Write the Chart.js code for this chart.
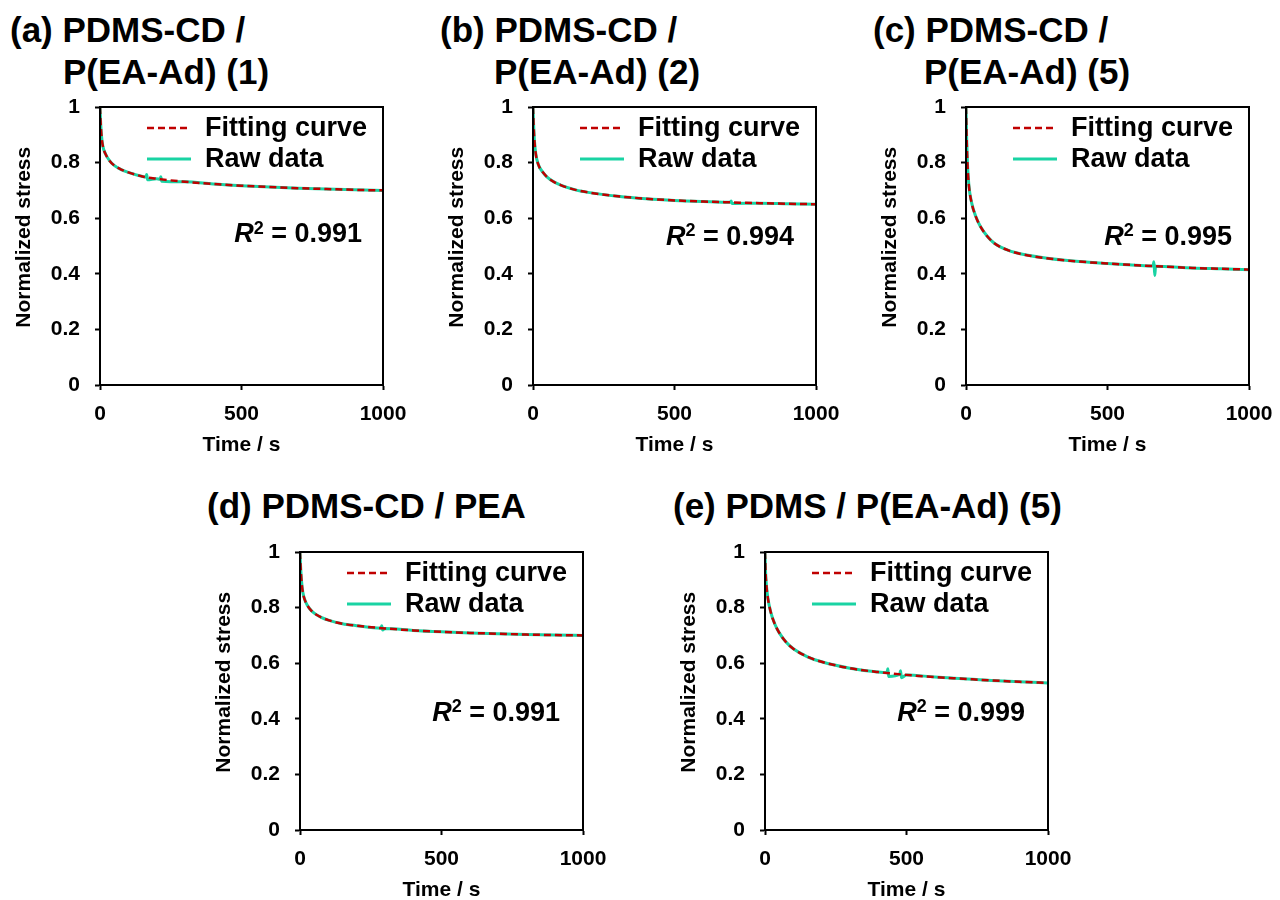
<!DOCTYPE html>
<html>
<head>
<meta charset="utf-8">
<script src="https://cdn.jsdelivr.net/npm/chart.js@4.4.1/dist/chart.umd.min.js"></script>
<style>
  body { margin: 0; background: #fff; width: 1280px; height: 900px; position: relative; overflow: hidden;
         font-family: "Liberation Sans", Arial, sans-serif; }
  .title { position: absolute; font-weight: bold; font-size: 35px; line-height: 42px; color: #000; white-space: nowrap; }
  canvas { position: absolute; }
</style>
</head>
<body>
<div class="title" style="left:10px;top:9px">(a) PDMS-CD /</div>
<div class="title" style="left:63px;top:51px">P(EA-Ad) (1)</div>
<div class="title" style="left:440px;top:9px">(b) PDMS-CD /</div>
<div class="title" style="left:494px;top:51px">P(EA-Ad) (2)</div>
<div class="title" style="left:873px;top:9px">(c) PDMS-CD /</div>
<div class="title" style="left:924px;top:51px">P(EA-Ad) (5)</div>
<div class="title" style="left:207px;top:485px">(d) PDMS-CD / PEA</div>
<div class="title" style="left:673px;top:485px">(e) PDMS / P(EA-Ad) (5)</div>

<canvas id="chartA"></canvas>
<canvas id="chartB"></canvas>
<canvas id="chartC"></canvas>
<canvas id="chartD"></canvas>
<canvas id="chartE"></canvas>

<script>
// time axis (s) shared by the fitted curves
const fitTime = [0, 2, 5, 10, 20, 35, 50, 75, 100, 150, 200, 300, 400, 500, 600, 700, 800, 900, 1000];

// fitted curves (normalized stress)
const fitA = [1.0, 0.95, 0.90, 0.86, 0.83, 0.805, 0.79, 0.775, 0.765, 0.75, 0.742, 0.731, 0.723, 0.717, 0.712, 0.708, 0.705, 0.702, 0.700];
const fitB = [1.0, 0.94, 0.88, 0.83, 0.79, 0.765, 0.748, 0.730, 0.718, 0.702, 0.692, 0.679, 0.670, 0.664, 0.660, 0.657, 0.654, 0.652, 0.650];
const fitC = [1.0, 0.90, 0.80, 0.72, 0.655, 0.605, 0.572, 0.535, 0.510, 0.484, 0.470, 0.454, 0.444, 0.437, 0.431, 0.426, 0.421, 0.418, 0.415];
const fitD = [1.0, 0.95, 0.90, 0.855, 0.82, 0.795, 0.78, 0.765, 0.755, 0.742, 0.735, 0.725, 0.718, 0.713, 0.709, 0.706, 0.703, 0.701, 0.700];
const fitE = [1.0, 0.93, 0.88, 0.835, 0.785, 0.74, 0.71, 0.675, 0.652, 0.623, 0.605, 0.582, 0.568, 0.558, 0.550, 0.544, 0.538, 0.533, 0.529];

// raw data (with the small noise spikes seen in the measurements)
const rawTimeA = [0, 2, 5, 10, 20, 35, 50, 75, 100, 150, 162, 165, 168, 200, 212, 215, 218, 300, 400, 500, 600, 700, 800, 900, 1000];
const rawA = [1.0, 0.95, 0.90, 0.86, 0.83, 0.805, 0.79, 0.775, 0.765, 0.75, 0.748, 0.757, 0.738, 0.742, 0.740, 0.749, 0.733, 0.731, 0.723, 0.717, 0.712, 0.708, 0.705, 0.702, 0.700];
const rawTimeB = [0, 2, 5, 10, 20, 35, 50, 75, 100, 150, 200, 300, 400, 500, 600, 697, 700, 703, 800, 900, 1000];
const rawB = [1.0, 0.94, 0.88, 0.83, 0.79, 0.765, 0.748, 0.730, 0.718, 0.702, 0.692, 0.679, 0.670, 0.664, 0.660, 0.657, 0.662, 0.653, 0.654, 0.652, 0.650];
const rawTimeC = [0, 2, 5, 10, 20, 35, 50, 75, 100, 150, 200, 300, 400, 500, 600, 661, 664, 667, 670, 700, 800, 900, 1000];
const rawC = [1.0, 0.90, 0.80, 0.72, 0.655, 0.605, 0.572, 0.535, 0.510, 0.484, 0.470, 0.454, 0.444, 0.437, 0.431, 0.428, 0.443, 0.394, 0.427, 0.426, 0.421, 0.418, 0.415];
const rawTimeD = [0, 2, 5, 10, 20, 35, 50, 75, 100, 150, 200, 286, 289, 292, 300, 400, 500, 600, 700, 800, 900, 1000];
const rawD = [1.0, 0.95, 0.90, 0.855, 0.82, 0.795, 0.78, 0.765, 0.755, 0.742, 0.735, 0.726, 0.735, 0.719, 0.725, 0.718, 0.713, 0.709, 0.706, 0.703, 0.701, 0.700];
const rawTimeE = [0, 2, 5, 10, 20, 35, 50, 75, 100, 150, 200, 300, 400, 431, 434, 437, 476, 479, 482, 500, 600, 700, 800, 900, 1000];
const rawE = [1.0, 0.93, 0.88, 0.835, 0.785, 0.74, 0.71, 0.675, 0.652, 0.623, 0.605, 0.582, 0.568, 0.566, 0.580, 0.552, 0.561, 0.573, 0.548, 0.558, 0.550, 0.544, 0.538, 0.533, 0.529];

const r2Labels = ["0.991", "0.994", "0.995", "0.991", "0.999"];
const xTicks = [0, 500, 1000];
const yTicks = [0, 0.2, 0.4, 0.6, 0.8, 1];

const FONT = "'Liberation Sans', Arial, sans-serif";
const RED = "#c00000";
const GREEN = "#19d3a3";

// chart-area geometry of each panel (page px)
const AREA_W = 283, AREA_H = 278;
const Y_W = 90, X_H = 78, PAD_T = 16, PAD_R = 30;

function toPoints(xs, ys) {
  return xs.map((x, i) => ({ x: x, y: ys[i] }));
}

const framePlugin = {
  id: "frame",
  afterDraw(chart, args, opts) {
    const { ctx, chartArea: a } = chart;
    ctx.save();
    ctx.strokeStyle = "#000";
    ctx.lineWidth = 2;
    ctx.strokeRect(a.left, a.top, a.right - a.left, a.bottom - a.top);

    // legend inside the plot
    ctx.font = "bold 27px " + FONT;
    ctx.textBaseline = "middle";
    ctx.fillStyle = "#000";
    const rows = [chart.data.datasets[1], chart.data.datasets[0]];
    rows.forEach((ds, i) => {
      const y = a.top + 21 + i * 31;
      ctx.beginPath();
      ctx.strokeStyle = ds.borderColor;
      ctx.lineWidth = ds.borderWidth;
      ctx.setLineDash(ds.borderDash || []);
      ctx.moveTo(a.left + 47, y);
      ctx.lineTo(a.left + 91, y);
      ctx.stroke();
      ctx.setLineDash([]);
      ctx.fillText(ds.label, a.left + 105, y + 1);
    });

    // R^2 label, right-aligned at a data position
    const xr = chart.scales.x.getPixelForValue(opts.pos[0]);
    const yr = chart.scales.y.getPixelForValue(opts.pos[1]);
    const fR = "italic bold 27px " + FONT;
    const fSup = "bold 18px " + FONT;
    const fMain = "bold 27px " + FONT;
    const rest = " = " + opts.text;
    ctx.font = fR; const wR = ctx.measureText("R").width;
    ctx.font = fSup; const wS = ctx.measureText("2").width;
    ctx.font = fMain; const wM = ctx.measureText(rest).width;
    let x = xr - (wR + wS + wM);
    ctx.textAlign = "left";
    ctx.font = fR; ctx.fillText("R", x, yr); x += wR;
    ctx.font = fSup; ctx.fillText("2", x, yr - 6); x += wS;
    ctx.font = fMain; ctx.fillText(rest, x, yr);
    ctx.restore();
  }
};

function makePanel(id, left, top, fit, rawX, rawY, r2Text, r2Pos) {
  const cv = document.getElementById(id);
  const w = Y_W + AREA_W + PAD_R, h = PAD_T + AREA_H + X_H;
  cv.width = w; cv.height = h;
  cv.style.left = (left - Y_W) + "px";
  cv.style.top = (top - PAD_T) + "px";
  cv.style.width = w + "px"; cv.style.height = h + "px";

  new Chart(cv.getContext("2d"), {
    type: "line",
    data: {
      datasets: [
        {
          label: "Raw data",
          data: toPoints(rawX, rawY),
          borderColor: GREEN,
          borderWidth: 3,
          pointRadius: 0,
          fill: false,
          cubicInterpolationMode: "monotone",
          order: 2
        },
        {
          label: "Fitting curve",
          data: toPoints(fitTime, fit),
          borderColor: RED,
          borderWidth: 2.5,
          borderDash: [7, 4],
          pointRadius: 0,
          fill: false,
          cubicInterpolationMode: "monotone",
          order: 1
        }
      ]
    },
    options: {
      responsive: false,
      animation: false,
      layout: { padding: { top: PAD_T, right: PAD_R, left: 0, bottom: 0 } },
      plugins: {
        legend: { display: false },
        tooltip: { enabled: false },
        frame: { text: r2Text, pos: r2Pos }
      },
      scales: {
        x: {
          type: "linear",
          min: 0, max: 1000,
          afterBuildTicks: s => { s.ticks = xTicks.map(v => ({ value: v })); },
          afterFit: s => { s.height = X_H; s.paddingLeft = 0; s.paddingRight = 0; },
          grid: { drawOnChartArea: false, drawTicks: true, tickLength: 5, tickWidth: 2, tickColor: "#000" },
          border: { display: true, color: "#000", width: 2 },
          ticks: { color: "#000", padding: 12, maxRotation: 0, font: { family: FONT, size: 21, weight: "bold" },
                   callback: v => String(v) },
          title: { display: true, text: "Time / s", color: "#000", padding: { top: 0, bottom: 5 },
                   font: { family: FONT, size: 21, weight: "bold" } }
        },
        y: {
          min: 0, max: 1,
          afterBuildTicks: s => { s.ticks = yTicks.map(v => ({ value: v })); },
          afterFit: s => { s.width = Y_W; s.paddingTop = 0; s.paddingBottom = 0; },
          grid: { drawOnChartArea: false, drawTicks: true, tickLength: 5, tickWidth: 2, tickColor: "#000" },
          border: { display: true, color: "#000", width: 2 },
          ticks: { color: "#000", padding: 15, font: { family: FONT, size: 21, weight: "bold" },
                   callback: v => String(+v.toFixed(1)) },
          title: { display: true, text: "   Normalized stress", color: "#000", padding: { top: 2, bottom: 0 },
                   font: { family: FONT, size: 21, weight: "bold" } }
        }
      }
    },
    plugins: [framePlugin]
  });
}

makePanel("chartA", 100, 107, fitA, rawTimeA, rawA, r2Labels[0], [926, 0.54]);
makePanel("chartB", 533, 107, fitB, rawTimeB, rawB, r2Labels[1], [922, 0.532]);
makePanel("chartC", 966, 107, fitC, rawTimeC, rawC, r2Labels[2], [940, 0.532]);
makePanel("chartD", 300, 552, fitD, rawTimeD, rawD, r2Labels[3], [919, 0.42]);
makePanel("chartE", 765, 552, fitE, rawTimeE, rawE, r2Labels[4], [919, 0.42]);
</script>
</body>
</html>
